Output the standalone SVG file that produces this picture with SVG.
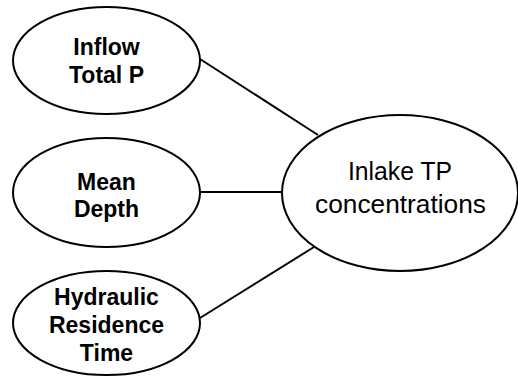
<svg xmlns="http://www.w3.org/2000/svg" width="518" height="376" viewBox="0 0 518 376">
<style>
.n{fill:#fff;stroke:#000;stroke-width:2}
.c{stroke:#000;stroke-width:2;fill:none}
.b{font-family:"Liberation Sans",Arial,sans-serif;font-weight:bold;font-size:23px;text-anchor:middle;fill:#000}
.r{font-family:"Liberation Sans",Arial,sans-serif;font-size:26px;text-anchor:middle;fill:#000}
</style>
<rect width="518" height="376" fill="#fff"/>
<g id="connectors">
<line class="c" x1="200" y1="59" x2="318" y2="135"/>
<line class="c" x1="200" y1="192" x2="282" y2="192"/>
<line class="c" x1="200" y1="318" x2="314" y2="247"/>
</g>
<g id="inflow">
<ellipse class="n" cx="106.5" cy="60.5" rx="93.5" ry="53.5"/>
<text class="b" x="106.5" y="55">Inflow</text>
<text class="b" x="106.5" y="83">Total P</text>
</g>
<g id="depth">
<ellipse class="n" cx="106.5" cy="192.5" rx="93.5" ry="54.5"/>
<text class="b" x="106.5" y="190">Mean</text>
<text class="b" x="106.5" y="217">Depth</text>
</g>
<g id="hrt">
<ellipse class="n" cx="106.5" cy="323" rx="93.5" ry="52"/>
<text class="b" x="106.5" y="305">Hydraulic</text>
<text class="b" x="106.5" y="333">Residence</text>
<text class="b" x="106.5" y="361">Time</text>
</g>
<g id="inlake">
<ellipse class="n" cx="400" cy="193" rx="118" ry="78"/>
<text class="r" x="400" y="180" textLength="104" lengthAdjust="spacingAndGlyphs">Inlake TP</text>
<text class="r" x="400.5" y="213" textLength="171" lengthAdjust="spacingAndGlyphs">concentrations</text>
</g>
</svg>
